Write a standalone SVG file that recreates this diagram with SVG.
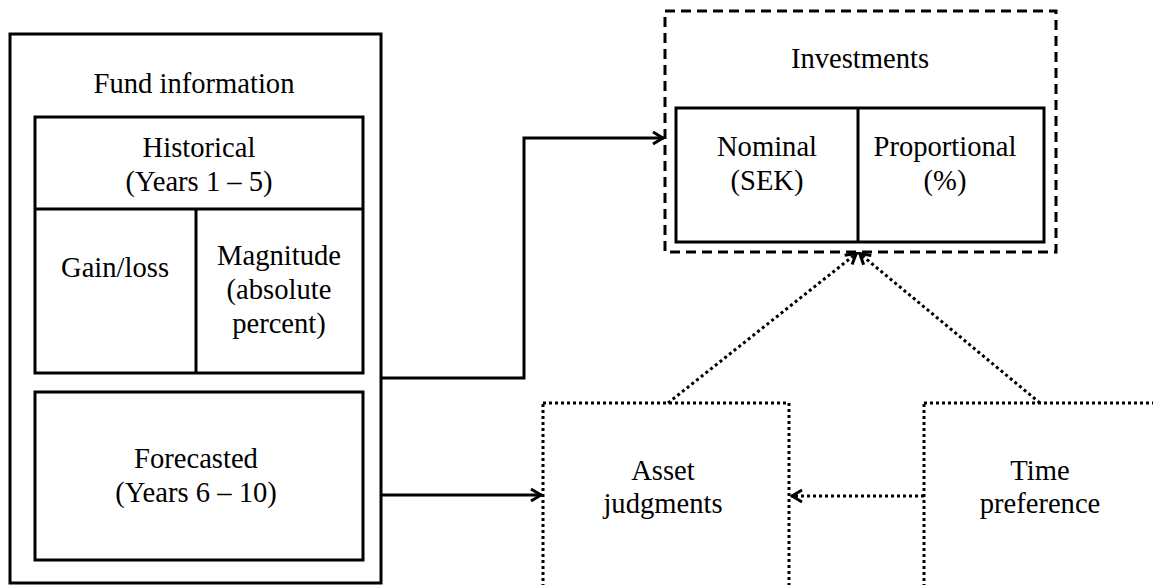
<svg xmlns="http://www.w3.org/2000/svg" width="1153" height="585" viewBox="0 0 1153 585">
<style>
.box{fill:none;stroke:#000;stroke-width:3}
.dash{fill:none;stroke:#000;stroke-width:3;stroke-dasharray:10 6}
.dot{fill:none;stroke:#000;stroke-width:3;stroke-dasharray:3 3}
.conn{fill:none;stroke:#000;stroke-width:3}
.dconn{fill:none;stroke:#000;stroke-width:3;stroke-dasharray:3 3}
.t{font-family:'Liberation Serif',serif;font-size:28.6px;fill:#000;text-anchor:middle}
</style>
<defs>
<marker id="arr" viewBox="0 0 14 16" refX="13" refY="8" markerWidth="14" markerHeight="16" markerUnits="userSpaceOnUse" orient="auto">
<path d="M2,2 L12,8 L2,14" fill="none" stroke="#000" stroke-width="3"/>
</marker>
</defs>
<g id="fund-information">
<rect class="box" x="10" y="34" width="371" height="549"/>
<text class="t" x="194" y="93">Fund information</text>
</g>
<g id="historical">
<rect class="box" x="35" y="117" width="328" height="256"/>
<line class="box" x1="35" y1="209" x2="363" y2="209"/>
<text class="t" x="199" y="157">Historical</text>
<text class="t" x="199" y="191">(Years 1 – 5)</text>
</g>
<g id="gain-loss">
<line class="box" x1="196" y1="209" x2="196" y2="373"/>
<text class="t" x="115" y="277">Gain/loss</text>
</g>
<g id="magnitude">
<text class="t" x="279" y="265">Magnitude</text>
<text class="t" x="279" y="299">(absolute</text>
<text class="t" x="279" y="333">percent)</text>
</g>
<g id="forecasted">
<rect class="box" x="35" y="392" width="328" height="168"/>
<text class="t" x="196" y="468">Forecasted</text>
<text class="t" x="196" y="502">(Years 6 – 10)</text>
</g>
<g id="investments">
<rect class="dash" x="665" y="11" width="391" height="241"/>
<text class="t" x="860" y="68">Investments</text>
</g>
<g id="nominal">
<rect class="box" x="676" y="108" width="368" height="134"/>
<line class="box" x1="858" y1="108" x2="858" y2="242"/>
<text class="t" x="767" y="156">Nominal</text>
<text class="t" x="767" y="190">(SEK)</text>
</g>
<g id="proportional">
<text class="t" x="945" y="156">Proportional</text>
<text class="t" x="945" y="190">(%)</text>
</g>
<g id="asset-judgments">
<rect class="dot" x="543" y="403" width="246" height="200"/>
<text class="t" x="663" y="480">Asset</text>
<text class="t" x="663" y="513">judgments</text>
</g>
<g id="time-preference">
<rect class="dot" x="924" y="403" width="240" height="200"/>
<text class="t" x="1040" y="480">Time</text>
<text class="t" x="1040" y="513">preference</text>
</g>
<g id="connectors">
<path class="conn" d="M381,378 H524 V138 H664" marker-end="url(#arr)"/>
<path class="conn" d="M381,495 H542" marker-end="url(#arr)"/>
<path class="dconn" d="M924,496 H791" marker-end="url(#arr)"/>
<path class="dconn" d="M668,403 L857,253" marker-end="url(#arr)"/>
<path class="dconn" d="M1040,403 L859,253" marker-end="url(#arr)"/>
</g>
</svg>
